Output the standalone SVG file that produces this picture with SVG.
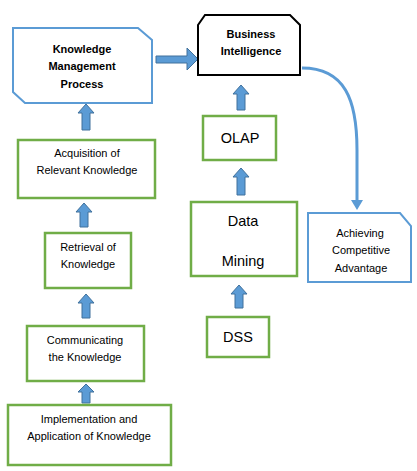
<svg xmlns="http://www.w3.org/2000/svg" width="417" height="471" viewBox="0 0 417 471">
<style>
.bg{fill:#ffffff}
.g{fill:#ffffff;stroke:#70ad47;stroke-width:2.5}
.b{fill:#ffffff;stroke:#5b9bd5;stroke-width:2}
.k{fill:#ffffff;stroke:#000000;stroke-width:2}
.arr{fill:#5b9bd5;stroke:#41719c;stroke-width:1}
.t{font-family:"Liberation Sans",Arial,sans-serif;font-size:11px;fill:#000;text-anchor:middle}
.tb{font-family:"Liberation Sans",Arial,sans-serif;font-size:11px;font-weight:bold;fill:#000;text-anchor:middle}
.tl{font-family:"Liberation Sans",Arial,sans-serif;font-size:14.5px;fill:#000;text-anchor:middle}
.con{fill:none;stroke:#5b9bd5;stroke-width:3}
</style>
<rect class="bg" x="0" y="0" width="417" height="471"/>
<g id="connectors">
<path class="arr" d="M156,56 L187,56 L187,48 L198,59 L187,70 L187,63 L156,63 Z"/>
<path class="arr" d="M86,104 L94,113 L90,113 L90,130 L82,130 L82,113 L78,113 Z"/>
<path class="arr" d="M84,203 L92,212 L88,212 L88,227 L80,227 L80,212 L76,212 Z"/>
<path class="arr" d="M86,294 L94,303 L90,303 L90,318 L82,318 L82,303 L78,303 Z"/>
<path class="arr" d="M86,384 L94,392 L90,392 L90,403 L82,403 L82,392 L78,392 Z"/>
<path class="arr" d="M241,85 L249,94 L245,94 L245,110 L237,110 L237,94 L233,94 Z"/>
<path class="arr" d="M241,168 L249,177 L245,177 L245,195 L237,195 L237,177 L233,177 Z"/>
<path class="arr" d="M239,285 L247,294 L243,294 L243,308 L235,308 L235,294 L231,294 Z"/>
<path class="con" d="M302,68 C345,68 357,100 357,150 L357,201"/>
<polygon points="351,200 363,200 357,210" fill="#5b9bd5"/>
</g>
<g id="kmp">
<path class="b" d="M13,28 L138,28 L152,40 L152,103 L25,103 L13,92 Z"/>
<text class="tb" x="82" y="53">Knowledge</text>
<text class="tb" x="82" y="70">Management</text>
<text class="tb" x="82" y="88">Process</text>
</g>
<g id="bi">
<path class="k" d="M205,15 L290,15 L300,25 L300,75 L198,75 L198,25 Z"/>
<text class="tb" x="251" y="38">Business</text>
<text class="tb" x="251" y="55">Intelligence</text>
</g>
<g id="acquisition">
<rect class="g" x="18" y="140" width="137" height="58"/>
<text class="t" x="87" y="157">Acquisition of</text>
<text class="t" x="87" y="174">Relevant Knowledge</text>
</g>
<g id="retrieval">
<rect class="g" x="45" y="233" width="86" height="55"/>
<text class="t" x="88" y="251">Retrieval of</text>
<text class="t" x="88" y="268">Knowledge</text>
</g>
<g id="communicating">
<rect class="g" x="27" y="326" width="117" height="55"/>
<text class="t" x="85" y="344">Communicating</text>
<text class="t" x="85" y="361">the Knowledge</text>
</g>
<g id="implementation">
<rect class="g" x="8" y="405" width="163" height="60"/>
<text class="t" x="89" y="423">Implementation and</text>
<text class="t" x="89" y="440">Application of Knowledge</text>
</g>
<g id="olap">
<rect class="g" x="203" y="116" width="73" height="44"/>
<text class="tl" x="240" y="143">OLAP</text>
</g>
<g id="datamining">
<rect class="g" x="191" y="202" width="106" height="74"/>
<text class="tl" x="243" y="226">Data</text>
<text class="tl" x="243" y="266">Mining</text>
</g>
<g id="dss">
<rect class="g" x="207" y="317" width="62" height="40"/>
<text class="tl" x="238" y="342">DSS</text>
</g>
<g id="achieving">
<path class="b" d="M308,213 L400,213 L411,226 L411,282 L308,282 Z"/>
<text class="t" x="360" y="237">Achieving</text>
<text class="t" x="361" y="254">Competitive</text>
<text class="t" x="361" y="272">Advantage</text>
</g>
</svg>
